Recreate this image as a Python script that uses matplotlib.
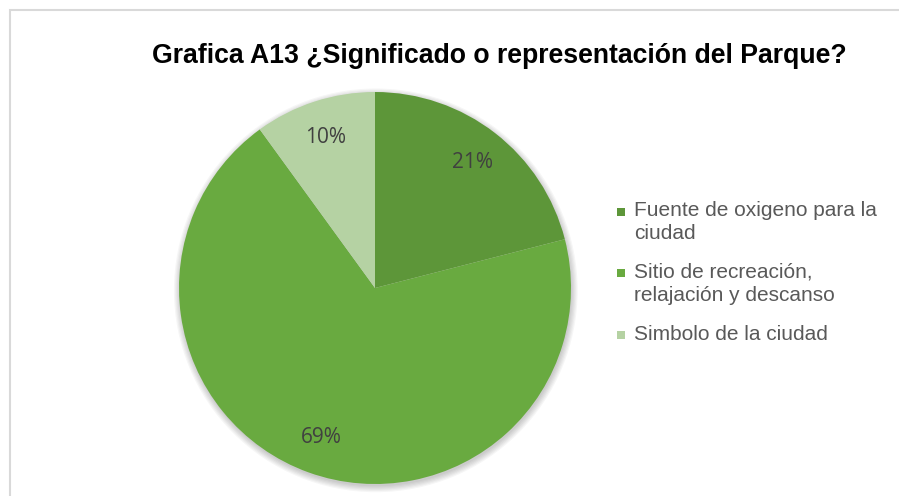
import matplotlib.pyplot as plt
from matplotlib.patches import Circle, Rectangle

# datos de la grafica
categorias = ['Fuente de oxigeno para la\nciudad',
              'Sitio de recreación,\nrelajación y descanso',
              'Simbolo de la ciudad']
porcentajes = [21, 69, 10]
colores = ['#5d9639', '#69aa40', '#b5d2a3']

W, H = 899, 496
fig = plt.figure(figsize=(W / 100, H / 100), dpi=100)

# marco del area del grafico
fig.patches.append(Rectangle((9.5 / W, -0.05), 1.0, 1 - 10.5 / H + 0.05,
                             transform=fig.transFigure, fill=False,
                             edgecolor='#d9d9d9', linewidth=1.5))

ax = fig.add_axes([130 / W, -37 / H, 490 / W, 490 / H])

# sombra suave debajo del pastel
for i in range(6):
    ax.add_patch(Circle((0.004, -0.012), 1.0 + i * 0.006, color='black',
                        alpha=0.035, zorder=0, linewidth=0))

wedges, textos, autotextos = ax.pie(
    porcentajes, colors=colores, startangle=90, counterclock=False,
    autopct='%1.0f%%', pctdistance=0.81,
    wedgeprops={'linewidth': 0, 'zorder': 2},
    textprops={'fontsize': 15, 'color': '#404040', 'family': 'Open Sans'})
ax.set_xlim(-1.25, 1.25)
ax.set_ylim(-1.25, 1.25)
ax.set_aspect('equal')

fig.text(499 / W, 1 - 63 / H, 'Grafica A13 ¿Significado o representación del Parque?',
         ha='center', va='baseline', fontsize=19.2, fontweight='bold',
         family='Liberation Sans', color='black')

# leyenda dibujada a mano: cuadro pequeño + texto, una linea a la vez
base_y = [216.5, 278, 340]
paso = 22.6
for w, etiqueta, y in zip(wedges, categorias, base_y):
    fig.patches.append(Rectangle((617 / W, 1 - (y - 1) / H), 8 / W, 8 / H,
                                 transform=fig.transFigure,
                                 facecolor=w.get_facecolor(), linewidth=0))
    for k, linea in enumerate(etiqueta.split('\n')):
        fig.text(634 / W, 1 - (y + k * paso) / H, linea, ha='left',
                 va='baseline', fontsize=15, family='Liberation Sans',
                 color='#595959')

fig.savefig('out.png', dpi=100)
